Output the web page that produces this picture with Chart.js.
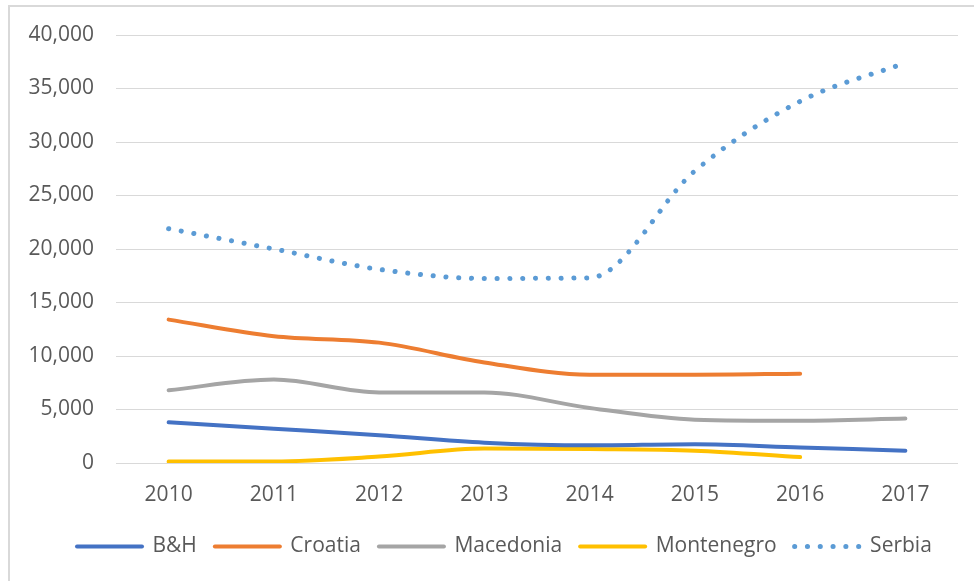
<!DOCTYPE html>
<html>
<head>
<meta charset="utf-8">
<script src="https://cdn.jsdelivr.net/npm/chart.js@4/dist/chart.umd.min.js"></script>
<style>
  html, body { margin: 0; padding: 0; background: #fff; overflow: hidden; }
  #frame { position: absolute; left: 8px; top: 5px; width: 1000px; height: 620px; border: 2px solid #d9d9d9; }
  #wrap { position: absolute; left: 0; top: 0; width: 974px; height: 581px; }
</style>
</head>
<body>
<div id="frame"></div>
<div id="wrap"><canvas id="chart" width="974" height="581"></canvas></div>
<script>
const years = ['2010', '2011', '2012', '2013', '2014', '2015', '2016', '2017'];
const bih = [3800, 3200, 2600, 1900, 1650, 1750, 1450, 1150];
const croatia = [13400, 11850, 11250, 9400, 8250, 8250, 8350, null];
const macedonia = [6800, 7800, 6600, 6600, 5150, 4050, 3950, 4150];
const montenegro = [150, 150, 600, 1350, 1300, 1150, 550, null];
const serbia = [21900, 20000, 18100, 17250, 17300, 27300, 33800, 37400];

const FONT = "'Open Sans', 'Noto Sans', sans-serif";

function line(label, data, color, dotted) {
  return {
    label,
    data,
    borderColor: color,
    backgroundColor: color,
    borderWidth: dotted ? 5 : 4,
    borderCapStyle: 'round',
    borderJoinStyle: 'round',
    borderDash: dotted ? [0.1, 12.7] : [],
    pointRadius: 0,
    pointHoverRadius: 0,
    pointStyle: 'line',
    cubicInterpolationMode: 'monotone',
    fill: false,
    spanGaps: false,
  };
}

// legend items take the dash / cap / width of the line itself, not of its points
function legendLabels(chart) {
  const items = Chart.defaults.plugins.legend.labels.generateLabels(chart);
  items.forEach(item => {
    const ds = chart.data.datasets[item.datasetIndex];
    item.lineDash = ds.borderDash;
    item.lineCap = 'round';
    item.lineWidth = ds.borderWidth;
    item.strokeStyle = ds.borderColor;
  });
  return items;
}

// the legend row starts a bit right of the canvas edge, like the original
const legendShift = {
  id: 'legendShift',
  afterLayout(chart) {
    chart.legend.left += 59;
    chart.legend.right += 59;
  },
};

new Chart(document.getElementById('chart'), {
  type: 'line',
  data: {
    labels: years,
    datasets: [
      line('B&H', bih, '#4472C4'),
      line('Croatia', croatia, '#ED7D31'),
      line('Macedonia', macedonia, '#A5A5A5'),
      line('Montenegro', montenegro, '#FFC000'),
      line('Serbia', serbia, '#5B9BD5', true),
    ],
  },
  plugins: [legendShift],
  options: {
    responsive: false,
    animation: false,
    layout: { padding: { left: 0, right: 16, top: 35, bottom: 14 } },
    plugins: {
      tooltip: { enabled: false },
      legend: {
        position: 'bottom',
        align: 'start',
        labels: {
          usePointStyle: true,
          pointStyleWidth: 65,
          boxWidth: 65,
          boxHeight: 4,
          padding: 18,
          color: '#595959',
          font: { family: FONT, size: 21 },
          generateLabels: legendLabels,
        },
      },
    },
    scales: {
      x: {
        offset: true,
        grid: { display: false },
        border: { display: false },
        ticks: { color: '#595959', font: { family: FONT, size: 21 }, padding: 11 },
        afterFit: s => { s.height = 55; },
      },
      y: {
        min: 0,
        max: 40000,
        grid: { color: '#d9d9d9', lineWidth: 1, drawTicks: false },
        border: { display: false },
        ticks: {
          stepSize: 5000,
          color: '#595959',
          font: { family: FONT, size: 21 },
          padding: 22,
          callback: v => v.toLocaleString('en-US'),
        },
        afterFit: s => { s.width = 116; },
      },
    },
  },
});
</script>
</body>
</html>
